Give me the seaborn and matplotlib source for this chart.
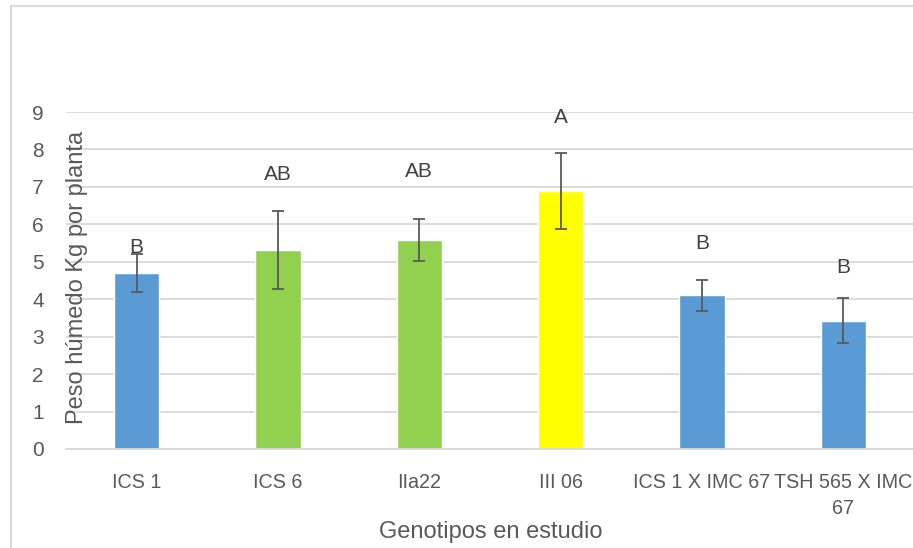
import matplotlib
matplotlib.use("Agg")
import matplotlib.pyplot as plt
import seaborn as sns
import pandas as pd
from matplotlib.patches import Rectangle

genotipos = ["ICS 1", "ICS 6", "IIa22", "III 06", "ICS 1 X IMC 67", "TSH 565 X IMC\n67"]
peso = [4.70, 5.31, 5.58, 6.89, 4.10, 3.42]
error = [0.50, 1.05, 0.55, 1.02, 0.41, 0.60]
letras = ["B", "AB", "AB", "A", "B", "B"]
letra_y = [5.37, 7.34, 7.42, 8.84, 5.50, 4.86]
colores = ["#5B9BD5", "#92D050", "#92D050", "#FFFF00", "#5B9BD5", "#5B9BD5"]

sns.set_theme(style="white")
plt.rcParams["font.family"] = ["Liberation Sans", "DejaVu Sans"]

TXT = "#595959"
GRID = "#D9D9D9"

fig = plt.figure(figsize=(9.13, 5.48), dpi=100)
ax = fig.add_axes([66 / 913, 1 - 449 / 548, 1 - 66 / 913 + 0.001, (449 - 112) / 548])

df = pd.DataFrame({"Genotipo": genotipos, "Peso": peso})
sns.barplot(data=df, x="Genotipo", y="Peso", hue="Genotipo", palette=colores,
            legend=False, width=0.32, ax=ax, errorbar=None, saturation=1)
ax.errorbar(range(len(genotipos)), peso, yerr=error, fmt="none", ecolor=TXT,
            elinewidth=1.3, capsize=4, capthick=1.3, zorder=5)
for i, (l, yy) in enumerate(zip(letras, letra_y)):
    ax.text(i, yy, l, ha="center", va="center", fontsize=15, color="#404040", zorder=6)

ax.set_ylim(0, 9)
ax.set_xlim(-0.5, len(genotipos) - 0.5)
ax.set_yticks(range(0, 10))
ax.yaxis.grid(True, color=GRID, linewidth=1.3)
ax.set_axisbelow(True)
for s in ["top", "right", "left"]:
    ax.spines[s].set_visible(False)
ax.spines["bottom"].set_color(GRID)
ax.spines["bottom"].set_linewidth(1.3)
ax.tick_params(axis="y", length=0, colors=TXT, labelsize=15, pad=16)
ax.tick_params(axis="x", length=0, colors=TXT, labelsize=14.2, pad=17)
for t in ax.get_xticklabels():
    t.set_linespacing(1.5)

ax.set_ylabel("Peso húmedo Kg por planta", fontsize=17, color=TXT)
ax.yaxis.set_label_coords((88 - 66) / (913 - 66), (449 - 277) / (449 - 112))
ax.set_xlabel("Genotipos en estudio", fontsize=17, color=TXT)
ax.xaxis.set_label_coords((490 - 66) / (913 - 66), -(521 - 449) / (449 - 112))

fig.patches.append(Rectangle((11 / 913, -0.2), 1.2, 1.2 - 6 / 548, transform=fig.transFigure,
                             fill=False, edgecolor=GRID, linewidth=1.5, zorder=0))

fig.savefig("out.png", dpi=100)
